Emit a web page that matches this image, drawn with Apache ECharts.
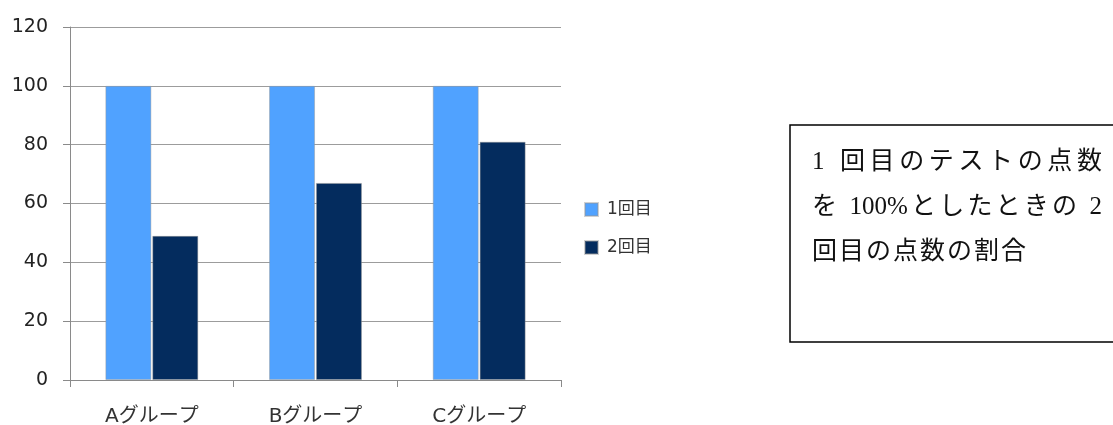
<!DOCTYPE html>
<html>
<head>
<meta charset="utf-8">
<script src="https://cdn.jsdelivr.net/npm/echarts@6/dist/echarts.min.js"></script>
<style>
html,body{margin:0;padding:0;background:#fff;overflow:hidden;}
#chart{width:1113px;height:425px;}
</style>
</head>
<body>
<div id="chart"></div>
<script>
const categories = ['Aグループ', 'Bグループ', 'Cグループ'];
const series1Name = '1回目';
const series2Name = '2回目';
const series1 = [100, 100, 100];
const series2 = [49, 67, 81];
const noteLines = ['1 回目のテストの点数', 'を 100%としたときの 2', '回目の点数の割合'];

const noteFontSize = 25;
const noteFamily = "'Liberation Serif', 'Noto Sans CJK JP'";
const measureCtx = document.createElement('canvas').getContext('2d');
measureCtx.font = noteFontSize + 'px ' + noteFamily;

// Split into tokens: runs of half-width chars stay together, others are single chars
function tokenize(str) {
  return str.match(/[0-9A-Za-z%]+|\s|./gu);
}

// Lay out one note line token by token (justified like the original text box)
function noteLine(str, x0, y, targetWidth, spacing) {
  const toks = tokenize(str);
  const widths = toks.map(c => measureCtx.measureText(c).width);
  const natural = widths.reduce((a, b) => a + b, 0);
  const gap = targetWidth ? (targetWidth - natural) / (toks.length - 1) : spacing;
  const out = [];
  let x = x0;
  toks.forEach((c, i) => {
    if (c.trim() !== '') {
      out.push({
        type: 'text', x: x, y: y,
        style: {
          text: c, fontSize: noteFontSize, fontFamily: noteFamily,
          fill: '#111', verticalAlign: 'middle', textVerticalAlign: 'middle'
        }
      });
    }
    x += widths[i] + gap;
  });
  return out;
}

const chart = echarts.init(document.getElementById('chart'));
const barBorder = 'rgba(150,150,150,0.45)';
chart.setOption({
  animation: false,
  backgroundColor: '#ffffff',
  grid: { left: 70, right: 552, top: 27, bottom: 45, containLabel: false, outerBoundsMode: 'none' },
  legend: {
    orient: 'vertical',
    left: 579,
    top: 196,
    itemWidth: 13,
    itemHeight: 13,
    itemGap: 21,
    icon: 'rect',
    textStyle: { fontFamily: "'DejaVu Sans', 'Noto Sans CJK JP'", fontSize: 17, color: '#333', padding: [0, 0, 0, 4] },
    data: [series1Name, series2Name]
  },
  xAxis: {
    type: 'category',
    data: categories,
    boundaryGap: true,
    axisLine: { show: true, lineStyle: { color: '#8a8a8a', width: 1 } },
    axisTick: { show: true, length: 7, lineStyle: { color: '#8a8a8a' } },
    axisLabel: { margin: 27, fontSize: 20, color: '#333', fontFamily: "'DejaVu Sans', 'Noto Sans CJK JP'" },
    splitLine: { show: false }
  },
  yAxis: {
    type: 'value',
    min: 0,
    max: 120,
    interval: 20,
    axisLine: { show: true, lineStyle: { color: '#8a8a8a', width: 1 } },
    axisTick: { show: true, length: 7, lineStyle: { color: '#8a8a8a' } },
    axisLabel: { margin: 22, fontSize: 19, color: '#222', fontFamily: "'DejaVu Sans'" },
    splitLine: { show: true, lineStyle: { color: '#9c9c9c', width: 1 } }
  },
  series: [
    {
      name: series1Name,
      type: 'bar',
      data: series1,
      barWidth: 46,
      barGap: '2%',
      itemStyle: { color: '#50A2FF', borderColor: barBorder, borderWidth: 1 }
    },
    {
      name: series2Name,
      type: 'bar',
      data: series2,
      barWidth: 46,
      barGap: '2%',
      itemStyle: { color: '#042C5E', borderColor: barBorder, borderWidth: 1 }
    }
  ],
  graphic: [
    {
      type: 'rect',
      shape: { x: 790, y: 125, width: 340, height: 217 },
      style: { fill: '#fff', stroke: '#000', lineWidth: 1.5 }
    }
  ]
    .concat(noteLine(noteLines[0], 812, 162, 290))
    .concat(noteLine(noteLines[1], 812, 207, 290))
    .concat(noteLine(noteLines[2], 812, 252, null, 2))
});
</script>
</body>
</html>
